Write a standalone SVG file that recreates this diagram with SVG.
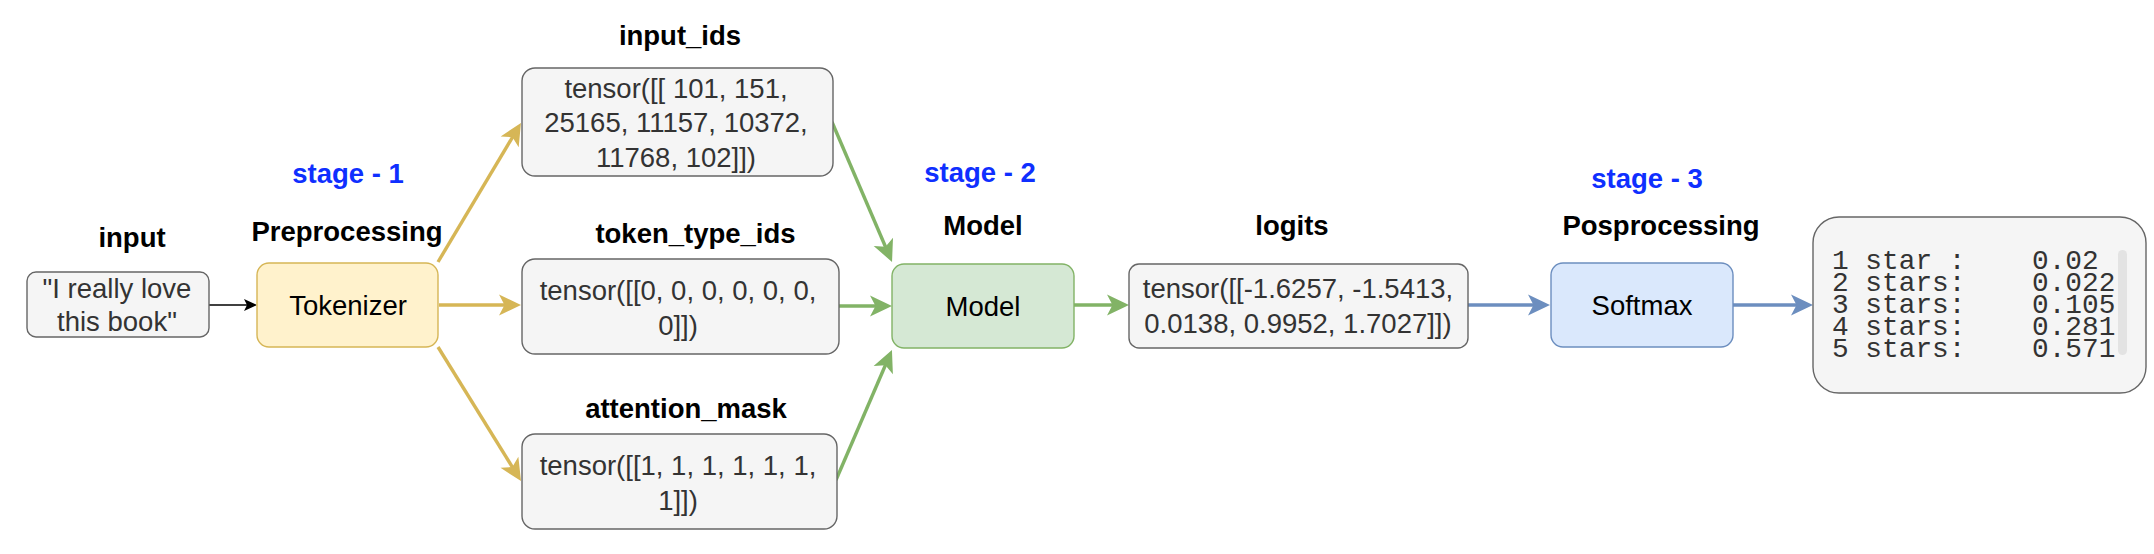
<svg xmlns="http://www.w3.org/2000/svg" width="2154" height="554" viewBox="0 0 2154 554">
<style>
.gray{fill:#f5f5f5;stroke:#666666;stroke-width:1.4}
.yel{fill:#fff2cc;stroke:#d6b656;stroke-width:1.4}
.grn{fill:#d5e8d4;stroke:#82b366;stroke-width:1.4}
.blu{fill:#dae8fc;stroke:#6c8ebf;stroke-width:1.4}
.t{font-family:"Liberation Sans",Arial,Helvetica,sans-serif;font-size:27.5px;text-anchor:middle}
.dk{fill:#333333}
.bk{fill:#000000}
.lbl{font-weight:bold;fill:#000000}
.stg{font-weight:bold;fill:#0f2fff}
.mono{font-family:"Liberation Mono","Courier New",monospace;font-size:27.8px;fill:#333333}
.cy{fill:none;stroke:#d6b656;stroke-width:3.4}
.cg{fill:none;stroke:#82b366;stroke-width:3.4}
.cb{fill:none;stroke:#6c8ebf;stroke-width:3.4}
.ck{fill:none;stroke:#000000;stroke-width:1.5}
</style>
<defs>
<marker id="ay" viewBox="-23 -12 25 24" markerWidth="25" markerHeight="24" refX="-12" refY="0" orient="auto" markerUnits="userSpaceOnUse"><path d="M0,0 L-22,-10.5 L-16.5,0 L-22,10.5 Z" fill="#d6b656"/></marker>
<marker id="ag" viewBox="-23 -12 25 24" markerWidth="25" markerHeight="24" refX="-12" refY="0" orient="auto" markerUnits="userSpaceOnUse"><path d="M0,0 L-22,-10.5 L-16.5,0 L-22,10.5 Z" fill="#82b366"/></marker>
<marker id="ab" viewBox="-23 -12 25 24" markerWidth="25" markerHeight="24" refX="-12" refY="0" orient="auto" markerUnits="userSpaceOnUse"><path d="M0,0 L-22,-10.5 L-16.5,0 L-22,10.5 Z" fill="#6c8ebf"/></marker>
<marker id="ak" viewBox="-15 -8 17 16" markerWidth="17" markerHeight="16" refX="-8" refY="0" orient="auto" markerUnits="userSpaceOnUse"><path d="M0,0 L-13,-6 L-10,0 L-13,6 Z" fill="#000000"/></marker>
</defs>
<rect width="2154" height="554" fill="#ffffff"/>

<g id="connectors">
<line class="ck" x1="209" y1="305" x2="249" y2="305" marker-end="url(#ak)"/>
<line class="cy" x1="438" y1="262" x2="514.8" y2="133.3" marker-end="url(#ay)"/>
<line class="cy" x1="439" y1="305" x2="509" y2="305" marker-end="url(#ay)"/>
<line class="cy" x1="438" y1="347" x2="514.7" y2="470.8" marker-end="url(#ay)"/>
<line class="cg" x1="832" y1="122" x2="887.3" y2="251" marker-end="url(#ag)"/>
<line class="cg" x1="839" y1="306" x2="880" y2="306" marker-end="url(#ag)"/>
<line class="cg" x1="836" y1="480" x2="887.2" y2="361" marker-end="url(#ag)"/>
<line class="cg" x1="1074" y1="305" x2="1117" y2="305" marker-end="url(#ag)"/>
<line class="cb" x1="1468" y1="305" x2="1538" y2="305" marker-end="url(#ab)"/>
<line class="cb" x1="1733" y1="305" x2="1801" y2="305" marker-end="url(#ab)"/>
</g>

<g id="stage1">
<text class="t stg" x="348" y="183">stage - 1</text>
</g>
<g id="stage2">
<text class="t stg" x="980" y="182">stage - 2</text>
</g>
<g id="stage3">
<text class="t stg" x="1647" y="188">stage - 3</text>
</g>

<g id="input">
<text class="t lbl" x="132" y="247">input</text>
<rect class="gray" x="27" y="272" width="182" height="65" rx="9"/>
<text class="t dk" x="117" y="298">"I really love</text>
<text class="t dk" x="117" y="331">this book"</text>
</g>

<g id="tokenizer">
<text class="t lbl" x="347" y="240.5">Preprocessing</text>
<rect class="yel" x="257" y="263" width="181" height="84" rx="12"/>
<text class="t bk" x="348" y="315">Tokenizer</text>
</g>

<g id="input_ids">
<text class="t lbl" x="680" y="45">input_ids</text>
<rect class="gray" x="522" y="68" width="311" height="108" rx="13"/>
<text class="t dk" x="676" y="97.5">tensor([[ 101, 151,</text>
<text class="t dk" x="676" y="132">25165, 11157, 10372,</text>
<text class="t dk" x="676" y="166.5">11768, 102]])</text>
</g>

<g id="token_type_ids">
<text class="t lbl" x="695.5" y="243">token_type_ids</text>
<rect class="gray" x="522" y="259" width="317" height="95" rx="13"/>
<text class="t dk" x="678" y="300">tensor([[0, 0, 0, 0, 0, 0,</text>
<text class="t dk" x="678" y="335">0]])</text>
</g>

<g id="attention_mask">
<text class="t lbl" x="686" y="418">attention_mask</text>
<rect class="gray" x="522" y="434" width="315" height="95" rx="13"/>
<text class="t dk" x="678" y="475">tensor([[1, 1, 1, 1, 1, 1,</text>
<text class="t dk" x="678" y="510">1]])</text>
</g>

<g id="model">
<text class="t lbl" x="983" y="235">Model</text>
<rect class="grn" x="892" y="264" width="182" height="84" rx="12"/>
<text class="t bk" x="983" y="316">Model</text>
</g>

<g id="logits">
<text class="t lbl" x="1292" y="235">logits</text>
<rect class="gray" x="1129" y="264" width="339" height="84" rx="10"/>
<text class="t dk" x="1298" y="298">tensor([[-1.6257, -1.5413,</text>
<text class="t dk" x="1298" y="332.5">0.0138, 0.9952, 1.7027]])</text>
</g>

<g id="softmax">
<text class="t lbl" x="1661" y="235">Posprocessing</text>
<rect class="blu" x="1551" y="263" width="182" height="84" rx="12"/>
<text class="t bk" x="1642" y="315">Softmax</text>
</g>

<g id="output">
<rect class="gray" x="1813" y="217" width="333" height="176" rx="26"/>
<rect x="2118" y="250" width="9" height="105" rx="4.5" fill="#e3e3e3"/>
<text class="mono"><tspan x="1832" y="268.5">1 star :</tspan><tspan x="2032" y="268.5">0.02</tspan><tspan x="1832" y="290.7">2 stars:</tspan><tspan x="2032" y="290.7">0.022</tspan><tspan x="1832" y="312.9">3 stars:</tspan><tspan x="2032" y="312.9">0.105</tspan><tspan x="1832" y="335.1">4 stars:</tspan><tspan x="2032" y="335.1">0.281</tspan><tspan x="1832" y="357.3">5 stars:</tspan><tspan x="2032" y="357.3">0.571</tspan></text>
</g>
</svg>
